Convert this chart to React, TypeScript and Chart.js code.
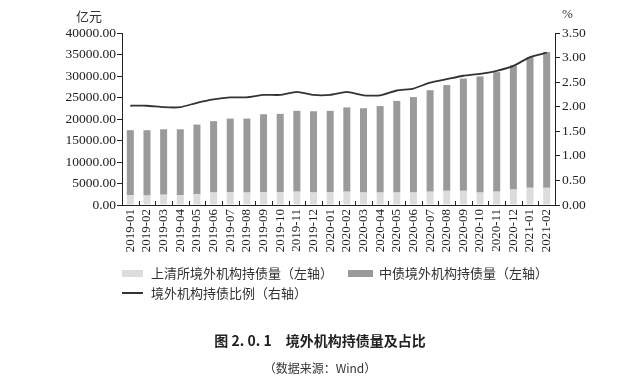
import React, { useEffect, useRef } from "react";
import { Chart, registerables } from "chart.js";

Chart.register(...registerables);

const categories = [
  "2019-01", "2019-02", "2019-03", "2019-04", "2019-05", "2019-06", "2019-07", "2019-08",
  "2019-09", "2019-10", "2019-11", "2019-12", "2020-01", "2020-02", "2020-03", "2020-04",
  "2020-05", "2020-06", "2020-07", "2020-08", "2020-09", "2020-10", "2020-11", "2020-12",
  "2021-01", "2021-02",
];
const shclearing = [
  2300, 2200, 2400, 2300, 2500, 2900, 3000, 2900, 3000, 3000, 3100, 2900, 3000, 3100, 2900, 2900,
  2900, 2900, 3100, 3300, 3300, 2900, 3100, 3600, 4000, 4000,
];
const ccdc = [
  15100, 15200, 15200, 15300, 16200, 16600, 17100, 17200, 18100, 18200, 18800, 18900, 18900, 19600,
  19600, 20100, 21300, 22200, 23600, 24600, 26100, 27000, 27800, 28900, 30400, 31600,
];
const ratio = [
  2.02, 2.02, 1.99, 1.99, 2.08, 2.15, 2.19, 2.19, 2.24, 2.24, 2.3, 2.24, 2.24, 2.3, 2.23, 2.23,
  2.33, 2.37, 2.49, 2.56, 2.63, 2.67, 2.73, 2.83, 3.01, 3.1,
];
const leftTicks = [0, 5000, 10000, 15000, 20000, 25000, 30000, 35000, 40000];
const rightTicks = [0, 0.5, 1, 1.5, 2, 2.5, 3, 3.5];

const LIGHT = "#dcdcdc";
const DARK = "#9a9a9b";
const LINE = "#333333";
const SERIF = "'Liberation Serif', 'DejaVu Serif', serif";
const CJK = "'Noto Sans CJK SC', sans-serif";

const innerTicks = {
  id: "innerTicks",
  afterDatasetsDraw(chart: any) {
    const { ctx, chartArea, scales } = chart;
    const x = scales.x;
    const n = categories.length;
    const w = (chartArea.right - chartArea.left) / n;
    ctx.save();
    ctx.strokeStyle = "#222";
    ctx.lineWidth = 1;
    ctx.beginPath();
    for (let i = 1; i < n; i++) {
      const px = Math.round(x.left + i * w) + 0.5;
      ctx.moveTo(px, chartArea.bottom);
      ctx.lineTo(px, chartArea.bottom - 4);
    }
    ctx.stroke();
    ctx.restore();
  },
};

export default function App() {
  const ref = useRef<HTMLCanvasElement | null>(null);
  useEffect(() => {
    if (!ref.current) return;
    const chart = new Chart(ref.current, {
      type: "bar",
      data: {
        labels: categories,
        datasets: [
          {
            type: "line",
            label: "境外机构持债比例（右轴）",
            data: ratio,
            yAxisID: "y1",
            borderColor: LINE,
            borderWidth: 1.8,
            pointRadius: 0,
            tension: 0.15,
            order: 0,
          } as any,
          {
            label: "上清所境外机构持债量（左轴）",
            data: shclearing,
            backgroundColor: LIGHT,
            yAxisID: "y",
            stack: "s",
            order: 1,
            categoryPercentage: 1,
            barPercentage: 0.42,
          },
          {
            label: "中债境外机构持债量（左轴）",
            data: ccdc,
            backgroundColor: DARK,
            yAxisID: "y",
            stack: "s",
            order: 1,
            categoryPercentage: 1,
            barPercentage: 0.42,
          },
        ],
      },
      options: {
        responsive: false,
        animation: false,
        layout: { padding: { top: 33, bottom: 122, left: 0, right: 0 } },
        plugins: { legend: { display: false }, tooltip: { enabled: false } },
        scales: {
          x: {
            stacked: true,
            offset: true,
            grid: { display: false, drawTicks: false },
            border: { display: true, color: "#222", width: 1 },
            ticks: {
              minRotation: 90,
              maxRotation: 90,
              autoSkip: false,
              padding: 4,
              color: "#222",
              font: { family: SERIF, size: 13 },
            },
            afterFit: (s: any) => {
              s.height = 55;
            },
          },
          y: {
            stacked: true,
            position: "left",
            min: 0,
            max: 40000,
            afterBuildTicks: (s: any) => {
              s.ticks = leftTicks.map((v) => ({ value: v }));
            },
            grid: { drawOnChartArea: false, drawTicks: true, tickLength: 5, color: "#222" },
            border: { display: true, color: "#222", width: 1 },
            ticks: {
              padding: 1,
              color: "#222",
              font: { family: SERIF, size: 13.5 },
              callback: (v: any) => Number(v).toFixed(2),
            },
            afterFit: (s: any) => {
              s.width = 122;
            },
          },
          y1: {
            stacked: false,
            position: "right",
            min: 0,
            max: 3.5,
            afterBuildTicks: (s: any) => {
              s.ticks = rightTicks.map((v) => ({ value: v }));
            },
            grid: { drawOnChartArea: false, drawTicks: true, tickLength: 5, color: "#222" },
            border: { display: true, color: "#222", width: 1 },
            ticks: {
              padding: 2,
              color: "#222",
              font: { family: SERIF, size: 13.5 },
              callback: (v: any) => Number(v).toFixed(2),
            },
            afterFit: (s: any) => {
              s.width = 85;
            },
          },
        },
      },
      plugins: [innerTicks],
    });
    return () => chart.destroy();
  }, []);

  const legendText: React.CSSProperties = {
    position: "absolute",
    fontFamily: CJK,
    fontSize: 13,
    color: "#333",
    whiteSpace: "nowrap",
    lineHeight: "16px",
  };

  return (
    <div style={{ position: "absolute", left: 0, top: 0, width: 640, height: 382, background: "#fff" }}>
      <canvas ref={ref} width={640} height={382} style={{ position: "absolute", left: 0, top: 0 }} />
      <div style={{ position: "absolute", left: 76, top: 6, fontFamily: CJK, fontSize: 13, color: "#333" }}>亿元</div>
      <div style={{ position: "absolute", left: 562, top: 6, fontFamily: SERIF, fontSize: 13, color: "#333" }}>%</div>

      <div style={{ position: "absolute", left: 122, top: 270, width: 21, height: 7, background: LIGHT }} />
      <div style={{ ...legendText, left: 151, top: 265 }}>上清所境外机构持债量（左轴）</div>
      <div style={{ position: "absolute", left: 348, top: 270, width: 25, height: 7, background: DARK }} />
      <div style={{ ...legendText, left: 379, top: 265 }}>中债境外机构持债量（左轴）</div>
      <div style={{ position: "absolute", left: 122, top: 292, width: 21, height: 2, background: LINE }} />
      <div style={{ ...legendText, left: 151, top: 285 }}>境外机构持债比例（右轴）</div>

      <div
        style={{
          position: "absolute",
          left: 0,
          width: 640,
          top: 330,
          textAlign: "center",
          fontFamily: CJK,
          fontWeight: 700,
          fontSize: 14,
          color: "#222",
          whiteSpace: "pre",
        }}
      >
        图 2. 0. 1　境外机构持债量及占比
      </div>
      <div
        style={{
          position: "absolute",
          left: 0,
          width: 640,
          top: 359,
          textAlign: "center",
          fontFamily: CJK,
          fontSize: 12,
          color: "#333",
        }}
      >
        （数据来源：Wind）
      </div>
    </div>
  );
}
